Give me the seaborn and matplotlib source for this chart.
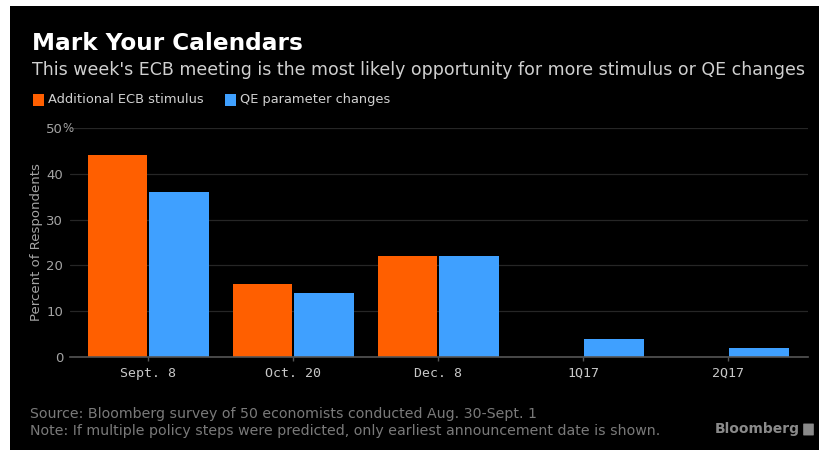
import matplotlib
matplotlib.use("Agg")
import matplotlib.pyplot as plt
import matplotlib.patches as mpatches
import seaborn as sns
import pandas as pd

categories = ["Sept. 8", "Oct. 20", "Dec. 8", "1Q17", "2Q17"]
series_names = ["Additional ECB stimulus", "QE parameter changes"]
stimulus = [44, 16, 22, 0, 0]
qe_changes = [36, 14, 22, 4, 2]
y_ticks = [0, 10, 20, 30, 40, 50]
y_tick_labels = ["0", "10", "20", "30", "40", "50"]

ORANGE = "#FF5F00"
BLUE = "#3FA0FF"

df = pd.DataFrame({
    "date": categories * 2,
    "pct": stimulus + qe_changes,
    "series": [series_names[0]] * len(categories) + [series_names[1]] * len(categories),
})

sns.set_theme(style="dark")
plt.rcParams["font.family"] = ["DejaVu Sans"]

W, H = 820, 454
fig = plt.figure(figsize=(W / 100, H / 100), dpi=100, facecolor="black")

# white margins around the black panel (top, left, bottom)
for (x0, y0, w, h) in [(0, 1 - 6 / H, 1, 6 / H + 0.01), (0, 0, 10 / W, 1),
                       (0, 0, 1, 4 / H)]:
    fig.patches.append(mpatches.Rectangle((x0, y0), w, h, transform=fig.transFigure,
                                          facecolor="white", edgecolor="none",
                                          zorder=-10))

ax = fig.add_axes([70 / W, 1 - 357 / H, (808 - 70) / W, (357 - 128) / H])
ax.set_zorder(2)
ax.set_facecolor("none")
ax.patch.set_alpha(0)

sns.barplot(data=df, x="date", y="pct", hue="series", palette=[ORANGE, BLUE],
            width=0.85, gap=0.03, ax=ax, legend=False, saturation=1,
            edgecolor="none", linewidth=0)

ax.set_xlim(-0.54, 4.55)
ax.set_ylim(0, 50)
ax.set_yticks(y_ticks)
ax.set_yticklabels(y_tick_labels)
ax.tick_params(axis="y", colors="#a4a4a4", labelsize=9.5, length=0, pad=5)
ax.tick_params(axis="x", colors="#555555", labelcolor="#c8c8c8", labelsize=9.5,
               length=3, width=1, pad=4, bottom=True)
for lab in ax.get_xticklabels():
    lab.set_family("DejaVu Sans Mono")
ax.set_xlabel("")
ax.set_ylabel("Percent of Respondents", color="#a4a4a4", fontsize=9.5, labelpad=2)
ax.grid(axis="y", color="#262626", linewidth=0.9)
ax.grid(axis="x", visible=False)
ax.set_axisbelow(True)
for s in ["top", "right", "left"]:
    ax.spines[s].set_visible(False)
ax.spines["bottom"].set_color("#555555")
ax.spines["bottom"].set_linewidth(1.2)
ax.spines["bottom"].set_zorder(5)
ax.text(-0.011, 50, "%", transform=ax.get_yaxis_transform(), color="#a4a4a4",
        fontsize=8.5, va="center", ha="left")

# titles
fig.text(32 / W, 1 - 43 / H, "Mark Your Calendars", color="white", fontsize=16.7,
         fontweight="bold", va="center", ha="left")
fig.text(32 / W, 1 - 70 / H,
         "This week's ECB meeting is the most likely opportunity for more stimulus or QE changes",
         color="#d0d0d0", fontsize=12.55, va="center", ha="left")

# legend
for x0, col, name, in [(33, ORANGE, series_names[0]), (225, BLUE, series_names[1])]:
    fig.patches.append(mpatches.Rectangle((x0 / W, 1 - 106 / H), 11 / W, 12 / H,
                                          transform=fig.transFigure, facecolor=col,
                                          edgecolor="none", zorder=3))
    fig.text((x0 + 15) / W, 1 - 100 / H, name, color="#d0d0d0", fontsize=9.4,
             va="center", ha="left")

# footer
fig.text(30 / W, 1 - 414 / H,
         "Source: Bloomberg survey of 50 economists conducted Aug. 30-Sept. 1",
         color="#7a7a7a", fontsize=10.2, va="center", ha="left")
fig.text(30 / W, 1 - 431 / H,
         "Note: If multiple policy steps were predicted, only earliest announcement date is shown.",
         color="#7a7a7a", fontsize=10.2, va="center", ha="left")
fig.text(800 / W, 1 - 429 / H, "Bloomberg", color="#8a8a8a", fontsize=10,
         fontweight="bold", va="center", ha="right")
fig.patches.append(mpatches.FancyBboxPatch((804 / W, 1 - 435 / H), 9 / W, 11 / H,
                                           boxstyle="round,pad=0.001",
                                           transform=fig.transFigure, facecolor="#8a8a8a",
                                           edgecolor="none", zorder=3))

fig.savefig("out.png", dpi=100, facecolor="black")
